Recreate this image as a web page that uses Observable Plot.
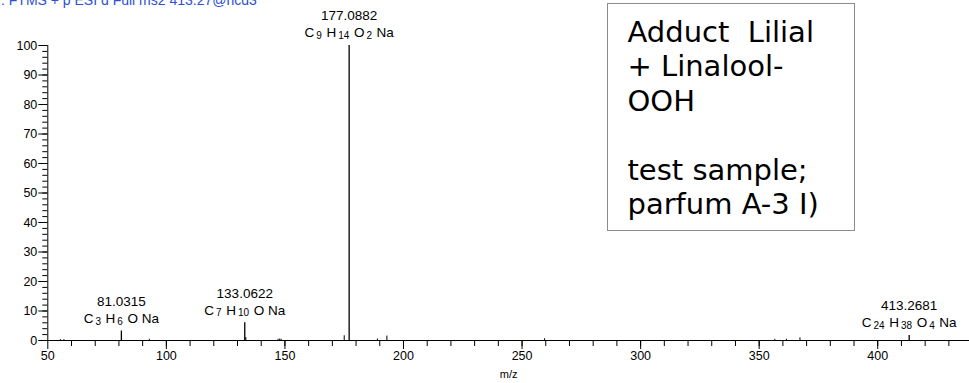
<!DOCTYPE html>
<html>
<head>
<meta charset="utf-8">
<script src="https://cdn.jsdelivr.net/npm/d3@7"></script>
<script src="https://cdn.jsdelivr.net/npm/@observablehq/plot@0.6"></script>
<style>
  body { margin: 0; background: #fff; }
  #wrap { position: relative; width: 969px; height: 383px; overflow: hidden; font-family: "Liberation Sans", Arial, sans-serif; }
  #scan { position: absolute; left: 1px; top: -7.3px; font-size: 14px; line-height: 14px; color: #2b4fd6; white-space: nowrap; }
  #note { position: absolute; left: 607px; top: 3px; width: 226px; height: 215px; padding: 10.9px 0 0 19.5px;
          border: 1.5px solid #8c8c8c; font-family: "DejaVu Sans", Verdana, sans-serif; font-size: 29px; line-height: 34.5px;
          color: #000; white-space: pre; box-sizing: content-box; background: #fff; }
  #chart { position: absolute; left: 0; top: 0; }
</style>
</head>
<body>
<div id="wrap">
  <div id="chart"></div>
  <div id="scan"></div>
  <div id="note"></div>
</div>
<script>
// ---- data ----
const scanTitle = ": FTMS + p ESI d Full ms2 413.27@hcd3";
const noteLines = ["Adduct  Lilial", "+ Linalool-", "OOH", "", "test sample;", "parfum A-3 I)"];

const peakMz = [81.0315, 133.0622, 177.0882, 413.2681];
const peakIntensity = [3.2, 6.0, 100, 1.7];
const peakFormula = ["C3 H6 O Na", "C7 H10 O Na", "C9 H14 O2 Na", "C24 H38 O4 Na"];

const noiseMz = [55.3, 56.8, 92.8, 133.5, 147.1, 147.8, 148.4, 175.0, 189.0, 193.0, 259.5, 356.6, 361.5, 367.2];
const noiseIntensity = [0.3, 0.3, 0.4, 1.0, 0.4, 0.5, 0.4, 1.6, 0.5, 1.5, 0.6, 0.4, 0.4, 0.9];

const xMajorTicks = [50, 100, 150, 200, 250, 300, 350, 400];
const xMinorTicks = d3.range(60, 440, 10);
const yMajorTicks = [0, 10, 20, 30, 40, 50, 60, 70, 80, 90, 100];
const yMinorTicks = d3.range(0, 101, 2);
const xDomain = [50, 438.7];
const xLabel = "m/z";

// ---- tables ----
const peaks = peakMz.map((mz, i) => ({mz, intensity: peakIntensity[i], formula: peakFormula[i], label: mz.toFixed(4)}));
const noise = noiseMz.map((mz, i) => ({mz, intensity: noiseIntensity[i]}));

document.getElementById("scan").textContent = scanTitle;
document.getElementById("note").textContent = noteLines.join("\n");

const plot = Plot.plot({
  width: 969,
  height: 383,
  marginLeft: 47.3,
  marginRight: 0,
  marginTop: 45,
  marginBottom: 43,
  style: {fontFamily: "'Liberation Sans', Arial, sans-serif", fontSize: "12.5px", color: "#000", background: "transparent"},
  x: {domain: xDomain, axis: null, label: null},
  y: {domain: [0, 100], axis: null, label: null},
  marks: [
    // y axis
    Plot.axisY({ticks: yMinorTicks, tickSize: 5, tickFormat: () => "", stroke: "#000", label: null}),
    Plot.axisY({ticks: yMajorTicks, tickSize: 9, tickPadding: 1.5, stroke: "#000", fill: "#000", label: null}),
    Plot.ruleX([xDomain[0]], {stroke: "#000", strokeWidth: 1}),
    // x axis
    Plot.axisX({ticks: xMinorTicks, tickSize: 6, tickFormat: () => "", stroke: "#000", label: null}),
    Plot.axisX({ticks: xMajorTicks, tickSize: 9, tickPadding: 2, stroke: "#000", fill: "#000", label: null}),
    Plot.text([xLabel], {frameAnchor: "bottom", dy: 37, fontSize: 11, fill: "#000"}),
    // spectrum stems
    Plot.ruleX(noise, {x: "mz", y1: 0, y2: "intensity", stroke: "#000", strokeWidth: 1}),
    Plot.ruleX(peaks, {x: "mz", y1: 0, y2: "intensity", stroke: "#000", strokeWidth: 1.3}),
    Plot.ruleY([0], {stroke: "#000", strokeWidth: 1.2}),
    // peak annotations
    Plot.text(peaks, {x: "mz", y: "intensity", text: "label", dy: -29.5, fontSize: 13.5, fill: "#000"}),
    Plot.text(peaks, {x: "mz", y: "intensity", text: "formula", dy: -12.5, fontSize: 13.5, fill: "#000"})
  ]
});

document.getElementById("chart").appendChild(plot);

// turn formula digits into subscripts
const formulaSet = new Set(peakFormula);
d3.select(plot).selectAll("text").each(function () {
  const s = this.textContent;
  if (!formulaSet.has(s)) return;
  const t = d3.select(this);
  while (this.firstChild) this.removeChild(this.firstChild);
  s.split(" ").forEach((tok, k) => {
    const m = tok.match(/^([A-Z][a-z]?)(\d*)$/);
    const sym = m ? m[1] : tok;
    const num = m ? m[2] : "";
    t.append("tspan").text((k > 0 ? " " : "") + sym);
    if (num) {
      t.append("tspan").attr("font-size", 10).attr("dy", 1.8).text("\u2009" + num);
      t.append("tspan").attr("font-size", 10).attr("dy", -1.8).text("\u200a");
    }
  });
});
</script>
</body>
</html>
